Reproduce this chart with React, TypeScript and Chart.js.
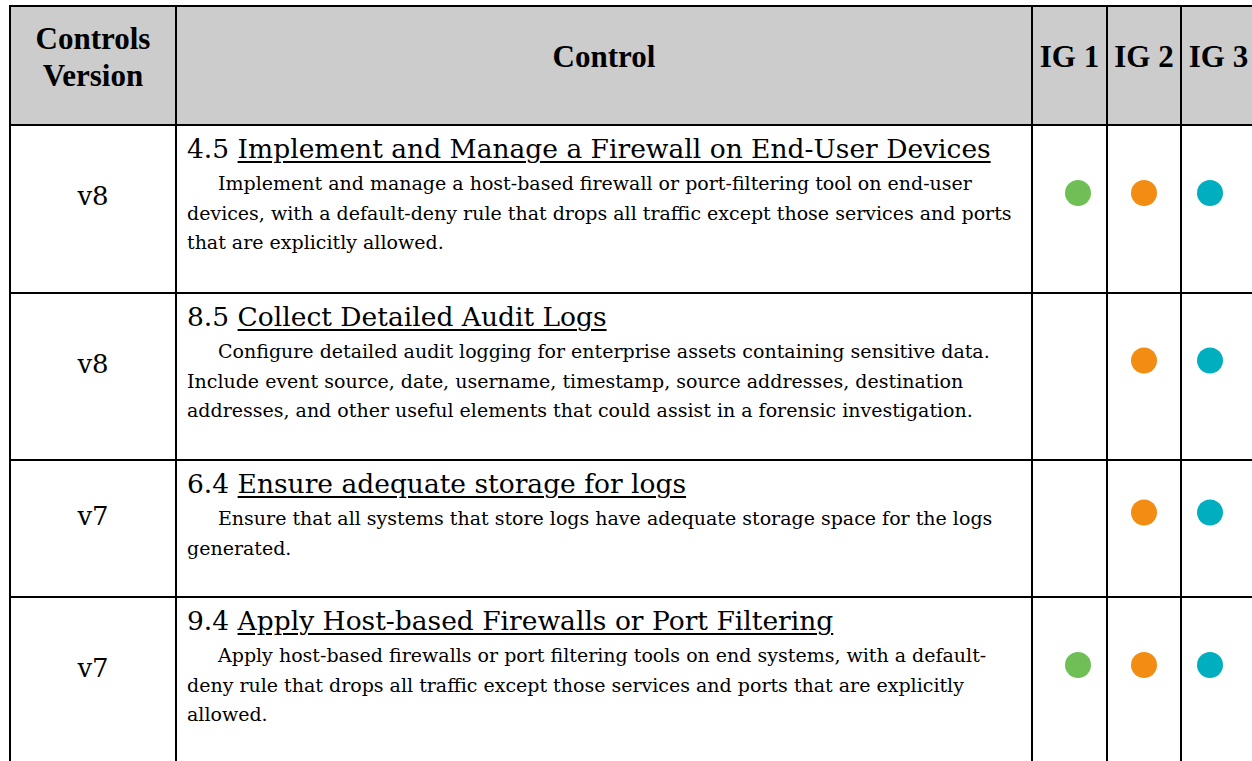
import React, { useEffect, useRef } from "react";
import { Chart, registerables } from "chart.js";

Chart.register(...registerables);

// ---------- data ----------
const headerVersion = ["Controls", "Version"];
const headerControl = "Control";
const igLabels = ["IG 1", "IG 2", "IG 3"];

const versions = ["v8", "v8", "v7", "v7"];
const controlIds = ["4.5", "8.5", "6.4", "9.4"];
const controlTitles = [
  "Implement and Manage a Firewall on End-User Devices",
  "Collect Detailed Audit Logs",
  "Ensure adequate storage for logs",
  "Apply Host-based Firewalls or Port Filtering",
];
const controlDescLines = [
  [
    "Implement and manage a host-based firewall or port-filtering tool on end-user",
    "devices, with a default-deny rule that drops all traffic except those services and ports",
    "that are explicitly allowed.",
  ],
  [
    "Configure detailed audit logging for enterprise assets containing sensitive data.",
    "Include event source, date, username, timestamp, source addresses, destination",
    "addresses, and other useful elements that could assist in a forensic investigation.",
  ],
  [
    "Ensure that all systems that store logs have adequate storage space for the logs",
    "generated.",
  ],
  [
    "Apply host-based firewalls or port filtering tools on end systems, with a default-",
    "deny rule that drops all traffic except those services and ports that are explicitly",
    "allowed.",
  ],
];
// 1 = control applies to the implementation group
const ig1 = [1, 0, 0, 1];
const ig2 = [1, 1, 1, 1];
const ig3 = [1, 1, 1, 1];

// ---------- styles / layout ----------
const igColors = ["#70BF56", "#F28C12", "#00AFBF"];
const colX = [10, 176, 1032, 1107, 1181, 1256];
const rowY = [6, 125, 293, 460, 597, 765];
const BOTTOM_GAP = 32;
const FONT = "'DejaVu Serif', serif";
const HFONT = "'Liberation Serif', 'Times New Roman', serif";

function RowDots({ row, left, top, width, height }: { row: number; left: number; top: number; width: number; height: number }) {
  const ref = useRef<HTMLCanvasElement | null>(null);
  useEffect(() => {
    if (!ref.current) return;
    const flags = [ig1[row], ig2[row], ig3[row]];
    const chart = new Chart(ref.current, {
      type: "line",
      data: {
        labels: igLabels,
        datasets: [
          {
            data: flags.map((f) => (f ? 0 : null)),
            showLine: false,
            pointRadius: 13,
            pointHoverRadius: 13,
            pointBackgroundColor: igColors,
            pointBorderWidth: 0,
            borderWidth: 0,
          },
        ],
      },
      options: {
        animation: false,
        responsive: false,
        maintainAspectRatio: false,
        events: [],
        layout: { padding: 0 },
        plugins: { legend: { display: false }, tooltip: { enabled: false } },
        scales: {
          x: { type: "category", offset: true, display: false },
          y: { min: -1, max: 1, display: false },
        },
      },
    });
    return () => chart.destroy();
  }, [row]);
  return (
    <canvas
      ref={ref}
      width={width}
      height={height}
      style={{ position: "absolute", left, top, width, height, pointerEvents: "none" }}
    />
  );
}

function Cell({ c0, c1, r, bg, children }: { c0: number; c1: number; r: number; bg?: string; children?: React.ReactNode }) {
  const left = colX[c0] - 1;
  const top = rowY[r] - 1;
  const width = colX[c1] - colX[c0] + 2;
  const height = rowY[r + 1] - rowY[r] + 2;
  return (
    <div
      style={{
        position: "absolute",
        left,
        top,
        width,
        height,
        boxSizing: "border-box",
        border: "2px solid #000",
        background: bg || "#fff",
        overflow: "hidden",
      }}
    >
      {children}
    </div>
  );
}

export default function App() {
  useEffect(() => {
    document.body.style.margin = "0";
    document.body.style.overflow = "hidden";
  }, []);

  const headerBold: React.CSSProperties = {
    fontFamily: HFONT,
    fontWeight: 700,
    fontSize: 31,
    color: "#000",
  };

  return (
    <div style={{ position: "relative", width: 1252, height: 761, overflow: "hidden", background: "#fff" }}>
      {/* header */}
      <Cell c0={0} c1={1} r={0} bg="#CCCCCC">
        <div style={{ ...headerBold, position: "absolute", left: 0, right: 0, top: 13, textAlign: "center", lineHeight: "37px" }}>
          {headerVersion.map((t, i) => (
            <div key={i}>{t}</div>
          ))}
        </div>
      </Cell>
      <Cell c0={1} c1={2} r={0} bg="#CCCCCC">
        <div style={{ ...headerBold, position: "absolute", left: 0, right: 0, top: 31, textAlign: "center", lineHeight: "37px" }}>
          {headerControl}
        </div>
      </Cell>
      {igLabels.map((lab, i) => (
        <Cell key={lab} c0={2 + i} c1={3 + i} r={0} bg="#CCCCCC">
          <div style={{ ...headerBold, position: "absolute", left: 0, right: 0, top: 31, textAlign: "center", lineHeight: "37px", whiteSpace: "nowrap" }}>
            {lab}
          </div>
        </Cell>
      ))}

      {/* body rows */}
      {versions.map((v, r) => {
        const rr = r + 1;
        const h = rowY[rr + 1] - rowY[rr];
        return (
          <React.Fragment key={r}>
            <Cell c0={0} c1={1} r={rr}>
              <div
                style={{
                  position: "absolute",
                  left: 0,
                  right: 0,
                  top: 2,
                  height: h - BOTTOM_GAP,
                  display: "flex",
                  alignItems: "center",
                  justifyContent: "center",
                  fontFamily: FONT,
                  fontSize: 26,
                  color: "#000",
                }}
              >
                {v}
              </div>
            </Cell>
            <Cell c0={1} c1={2} r={rr}>
              <div style={{ position: "absolute", left: 10, top: 3, fontFamily: FONT, color: "#000", whiteSpace: "nowrap" }}>
                <div style={{ fontSize: 26.5, lineHeight: "40px" }}>
                  {controlIds[r]}{" "}
                  <span style={{ textDecoration: "underline", textDecorationThickness: "1.5px", textUnderlineOffset: "3px" }}>
                    {controlTitles[r]}
                  </span>
                </div>
                <div style={{ fontSize: 19, lineHeight: "29.5px" }}>
                  {controlDescLines[r].map((line, i) => (
                    <div key={i} style={{ textIndent: i === 0 ? 31 : 0 }}>
                      {line}
                    </div>
                  ))}
                </div>
              </div>
            </Cell>
            {[0, 1, 2].map((k) => (
              <Cell key={k} c0={2 + k} c1={3 + k} r={rr} />
            ))}
            <RowDots
              row={r}
              left={colX[2]}
              top={rowY[rr]}
              width={colX[5] - colX[2]}
              height={h - BOTTOM_GAP}
            />
          </React.Fragment>
        );
      })}
    </div>
  );
}
